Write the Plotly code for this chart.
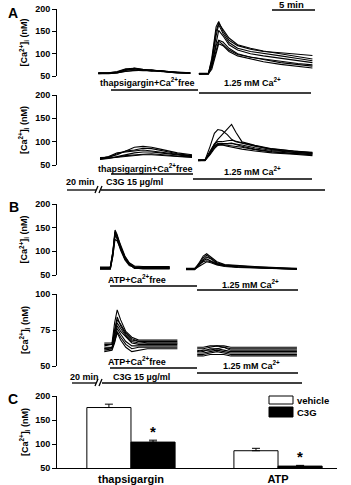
import plotly.graph_objects as go

W, H = 351, 485
def PX(x): return x / W
def PY(y): return 1 - y / H

FONT = "Liberation Sans, Arial, sans-serif"
MIN_PER_PX = 1 / 8.6          # 5 min = 43 px
T_RANGE = [0, 280 * MIN_PER_PX]

# ---------------- Panel A (thapsigargin) ----------------
a1_t_free = [4.8, 6, 7, 8, 9, 10, 11, 12, 13, 14, 15.5]
a1_free = [
    [56, 56, 58, 64, 66, 63, 62, 62, 60, 58, 57],
    [55, 55, 57, 62, 68, 65, 63, 61, 59, 57, 56],
    [57, 57, 59, 65, 64, 64, 63, 61, 60, 58, 57],
    [55, 56, 58, 60, 63, 62, 62, 60, 58, 57, 56],
    [56, 57, 60, 66, 67, 64, 61, 62, 59, 58, 57],
    [57, 56, 57, 61, 62, 63, 64, 61, 60, 58, 56],
]
a1_t_ca = [16.5, 17.6, 18.0, 18.5, 18.8, 19.3, 20, 21, 22.5, 24, 26, 28, 29.7]
a1_ca = [
    [55, 55, 90, 160, 172, 150, 130, 118, 110, 105, 102, 99, 96],
    [55, 56, 85, 150, 168, 155, 135, 120, 112, 106, 100, 93, 88],
    [54, 55, 80, 140, 165, 145, 125, 112, 105, 100, 95, 89, 84],
    [55, 55, 75, 125, 152, 140, 120, 108, 100, 95, 90, 84, 80],
    [54, 54, 70, 110, 128, 120, 108, 98, 92, 87, 80, 76, 72],
    [55, 55, 65, 100, 122, 118, 105, 95, 88, 82, 76, 72, 68],
    [56, 56, 72, 118, 130, 126, 112, 100, 92, 88, 84, 78, 75],
]
a2_t_free = [5, 6, 7, 8, 9, 10, 11, 12, 13, 14, 15.7]
a2_free = [
    [65, 67, 72, 80, 88, 90, 88, 84, 80, 76, 72],
    [63, 66, 74, 80, 82, 86, 85, 82, 78, 74, 70],
    [64, 68, 76, 78, 80, 82, 80, 78, 76, 73, 69],
    [62, 64, 68, 72, 76, 78, 78, 76, 74, 71, 68],
    [66, 66, 67, 70, 72, 73, 74, 73, 71, 69, 67],
    [63, 65, 66, 68, 70, 72, 72, 71, 70, 68, 66],
]
a2_t_ca = [16.4, 17.2, 17.8, 18.3, 18.7, 19.2, 19.8, 20.3, 20.8, 21.5, 23, 25, 27.5, 29.7]
a2_ca = [
    [60, 60, 90, 118, 126, 124, 115, 105, 100, 97, 90, 84, 79, 76],
    [60, 60, 75, 95, 105, 115, 128, 137, 120, 100, 92, 85, 80, 77],
    [59, 60, 80, 95, 100, 100, 102, 103, 101, 98, 90, 83, 78, 75],
    [61, 61, 78, 92, 96, 95, 95, 96, 95, 93, 87, 81, 77, 74],
    [60, 60, 76, 90, 95, 94, 92, 92, 90, 88, 83, 78, 74, 72],
    [59, 59, 72, 85, 92, 93, 90, 88, 86, 84, 80, 76, 73, 70],
    [60, 61, 74, 88, 94, 96, 96, 97, 94, 90, 84, 79, 75, 73],
]

# ---------------- Panel B (ATP) ----------------
b1_t_free = [5, 6.2, 6.5, 6.75, 7.0, 7.4, 7.9, 8.4, 9, 10, 13.1]
b1_free = [
    [66, 66, 100, 145, 135, 110, 88, 75, 68, 67, 67],
    [64, 64, 95, 140, 130, 106, 85, 72, 66, 65, 65],
    [62, 62, 90, 132, 128, 108, 86, 74, 65, 63, 63],
    [65, 66, 98, 138, 125, 102, 82, 70, 66, 66, 66],
    [63, 63, 92, 125, 122, 104, 84, 73, 64, 64, 64],
    [67, 67, 100, 142, 132, 112, 90, 76, 69, 68, 68],
]
b1_t_ca = [15, 16, 16.5, 17.0, 17.4, 17.9, 18.6, 19.5, 21, 23, 25.5, 27.9]
b1_ca = [
    [62, 62, 75, 90, 95, 88, 78, 72, 70, 68, 66, 64],
    [63, 63, 73, 86, 92, 86, 76, 71, 69, 67, 65, 63],
    [61, 61, 70, 82, 88, 84, 74, 70, 68, 66, 64, 63],
    [62, 63, 72, 80, 84, 80, 73, 70, 67, 66, 64, 62],
    [64, 64, 72, 78, 80, 78, 72, 69, 67, 65, 64, 63],
    [62, 62, 68, 74, 78, 76, 71, 68, 66, 65, 63, 62],
]
b2_t_free = [5.5, 6.4, 6.7, 7.0, 7.4, 8.0, 8.7, 9.5, 10.5, 12, 14]
b2_free = [
    [66, 66, 80, 89, 82, 74, 70, 68, 68, 68, 68],
    [64, 65, 75, 84, 78, 72, 68, 67, 67, 67, 67],
    [62, 63, 72, 80, 76, 71, 67, 66, 66, 66, 66],
    [63, 63, 70, 78, 74, 70, 66, 65, 65, 65, 65],
    [61, 62, 68, 76, 72, 67, 64, 64, 64, 64, 64],
    [60, 61, 66, 74, 70, 65, 62, 63, 63, 63, 63],
    [62, 62, 67, 73, 68, 63, 60, 61, 62, 62, 62],
    [65, 65, 74, 82, 79, 73, 69, 67, 66, 66, 66],
]
b2_t_ca = [16.3, 17, 17.8, 18.6, 19.4, 20.2, 22, 25, 27.9]
b2_ca = [
    [63, 63, 64, 64, 64, 63, 63, 63, 63],
    [62, 62, 63, 64, 63, 62, 62, 62, 62],
    [61, 60, 62, 62, 63, 61, 61, 61, 61],
    [60, 61, 61, 62, 61, 60, 60, 60, 60],
    [59, 59, 60, 61, 60, 59, 59, 59, 59],
    [58, 58, 59, 60, 59, 58, 58, 58, 58],
    [57, 57, 58, 58, 58, 57, 57, 57, 57],
]

# ---------------- Panel C (summary bars) ----------------
c_categories = ["thapsigargin", "ATP"]
c_vehicle = [176, 86]
c_vehicle_err = [7, 5]
c_c3g = [104, 54]
c_c3g_err = [4, 1.5]

fig = go.Figure()

def add_traces(tarr, series, yaxis):
    for s in series:
        fig.add_trace(go.Scatter(x=tarr, y=s, mode="lines", xaxis="x", yaxis=yaxis,
                                 line=dict(color="black", width=1.1), showlegend=False,
                                 hoverinfo="skip"))

add_traces(a1_t_free, a1_free, "y")
add_traces(a1_t_ca, a1_ca, "y")
add_traces(a2_t_free, a2_free, "y2")
add_traces(a2_t_ca, a2_ca, "y2")
add_traces(b1_t_free, b1_free, "y3")
add_traces(b1_t_ca, b1_ca, "y3")
add_traces(b2_t_free, b2_free, "y4")
add_traces(b2_t_ca, b2_ca, "y4")

fig.add_trace(go.Bar(x=c_categories, y=c_vehicle, name="vehicle", xaxis="x2", yaxis="y5",
                     marker=dict(color="white", line=dict(color="black", width=1)),
                     error_y=dict(type="data", array=c_vehicle_err, arrayminus=[0, 0],
                                  symmetric=False, color="black", thickness=1, width=4),
                     showlegend=False))
fig.add_trace(go.Bar(x=c_categories, y=c_c3g, name="C3G", xaxis="x2", yaxis="y5",
                     marker=dict(color="black", line=dict(color="black", width=1)),
                     error_y=dict(type="data", array=c_c3g_err, arrayminus=[0, 0],
                                  symmetric=False, color="black", thickness=1, width=4),
                     showlegend=False))

tickfont = dict(family=FONT, size=9, color="black", weight="bold")
def yax(dom, rng, tickvals):
    return dict(domain=[PY(dom[0]), PY(dom[1])], range=rng, tickvals=tickvals,
                showline=True, linecolor="black", linewidth=1, ticks="outside",
                ticklen=4, tickwidth=1, tickcolor="black", showgrid=False,
                zeroline=False, tickfont=tickfont, anchor="x", fixedrange=True,
                automargin=False)

layout = dict(
    width=W, height=H, margin=dict(l=0, r=0, t=0, b=0, autoexpand=False),
    paper_bgcolor="white", plot_bgcolor="rgba(0,0,0,0)",
    barmode="group", bargap=0.4, bargroupgap=0,
    xaxis=dict(domain=[PX(57), PX(337)], range=T_RANGE, visible=False, anchor="y",
               automargin=False),
    xaxis2=dict(domain=[PX(57), PX(337)], range=[-0.503, 1.401], anchor="y5",
                showline=True, linecolor="black", linewidth=1, ticks="",
                showgrid=False, automargin=False,
                tickfont=dict(family=FONT, size=11, color="black", weight="bold"),
                ticklabelstandoff=1),
    yaxis=yax([76, 9], [50, 200], [50, 100, 150, 200]),
    yaxis2=yax([165, 95], [50, 200], [50, 100, 150, 200]),
    yaxis3=yax([275, 204], [50, 200], [50, 100, 150, 200]),
    yaxis4=yax([366, 294], [50, 100], [50, 75, 100]),
)
y5 = yax([468, 396], [50, 200], [50, 100, 150, 200])
y5["anchor"] = "x2"
layout["yaxis5"] = y5
fig.update_layout(**layout)

ann = []
def txt(text, x, y, size=9, xanchor="center", angle=0):
    ann.append(dict(text="<b>" + text + "</b>", x=PX(x), y=PY(y), xref="paper", yref="paper",
                    showarrow=False, xanchor=xanchor, yanchor="middle", textangle=angle,
                    font=dict(family=FONT, size=size, color="black")))

ylabel = "[Ca<sup>2+</sup>]<sub>i</sub> (nM)"
for yc in [(9 + 76) / 2, (95 + 165) / 2, (204 + 275) / 2, (294 + 366) / 2, (396 + 468) / 2]:
    txt(ylabel, 24, yc, size=9, angle=-90)

txt("A", 13, 13, size=14)
txt("B", 14, 207, size=14)
txt("C", 13, 399, size=14)
txt("5 min", 291, 5, size=9.5)

sup = "Ca<sup>2+</sup>"
txt("thapsigargin+" + sup + "free", 147, 82)
txt("1.25 mM " + sup, 252, 82)
txt("thapsigargin+" + sup + "free", 145, 168)
txt("1.25 mM " + sup, 252, 171)
txt("20 min", 80, 182)
txt("C3G 15 µg/ml", 134, 182)
txt("ATP+" + sup + "free", 137, 279)
txt("1.25 mM " + sup, 250, 284)
txt("ATP+" + sup + "free", 137, 361)
txt("1.25 mM " + sup, 251, 365)
txt("20 min", 84, 377)
txt("C3G 15 µg/ml", 141, 377)

# asterisks on C3G bars
for cat, v, e in zip(c_categories, c_c3g, c_c3g_err):
    ann.append(dict(text="<b>*</b>", x=cat, y=v + e, xref="x2", yref="y5", xshift=22,
                    yshift=9, showarrow=False, xanchor="center", yanchor="middle",
                    font=dict(family=FONT, size=15, color="black")))

# legend text
txt("vehicle", 295, 400, size=9.5, xanchor="left")
txt("C3G", 295, 412, size=9.5, xanchor="left")
fig.update_layout(annotations=ann)

shapes = []
def hline_t(t0, t1, y, w=1.3):
    shapes.append(dict(type="line", xref="x", yref="paper", x0=t0, x1=t1, y0=PY(y), y1=PY(y),
                       line=dict(color="black", width=w)))
def pline(x0, y0, x1, y1, w=1.3):
    shapes.append(dict(type="line", xref="paper", yref="paper", x0=PX(x0), x1=PX(x1),
                       y0=PY(y0), y1=PY(y1), line=dict(color="black", width=w)))

def tt(px): return (px - 57) * MIN_PER_PX

# scale bar 5 min
hline_t(tt(272), tt(272) + 5, 10)
# solution bars
hline_t(tt(111), tt(198), 90)
hline_t(tt(199), tt(311), 93)
hline_t(tt(111), tt(193), 174)
hline_t(tt(193), tt(312), 179)
hline_t(tt(110), tt(197), 286)
hline_t(tt(197), tt(298), 290)
hline_t(tt(110), tt(197), 368)
hline_t(tt(197), tt(298), 373)
# C3G pre-incubation lines with break
hline_t(tt(67), tt(96), 190)
hline_t(tt(101), tt(325), 190)
pline(95, 193, 98, 186)
pline(99, 193, 102, 186)
hline_t(tt(72), tt(96), 383)
hline_t(tt(102), tt(302), 383)
pline(95, 386, 98, 379)
pline(99, 386, 102, 379)
# legend boxes
shapes.append(dict(type="rect", xref="paper", yref="paper", x0=PX(269), x1=PX(293),
                   y0=PY(404), y1=PY(396), fillcolor="white", line=dict(color="black", width=1)))
shapes.append(dict(type="rect", xref="paper", yref="paper", x0=PX(269), x1=PX(293),
                   y0=PY(417), y1=PY(407), fillcolor="black", line=dict(color="black", width=1)))
fig.update_layout(shapes=shapes)

fig.write_html("out.html")
